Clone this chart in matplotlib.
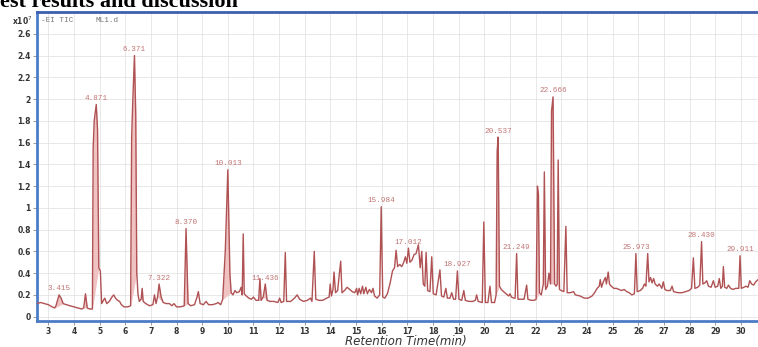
import numpy as np
import matplotlib
matplotlib.use("Agg")
import matplotlib.pyplot as plt

# ============================================================
# DATA  (intensity in units of 1e7)
# ============================================================

rt = [
    2.56, 2.70, 2.85, 3.00, 3.15, 3.25, 3.30, 3.42, 3.50, 3.58, 3.70, 3.85, 4.00, 4.15,
    4.30, 4.38, 4.45, 4.52, 4.62, 4.72, 4.75, 4.79, 4.87, 4.92, 4.97, 5.03, 5.08, 5.15,
    5.20, 5.28, 5.38, 5.48, 5.55, 5.62, 5.70, 5.78, 5.85, 5.95, 6.10, 6.21, 6.25, 6.30,
    6.36, 6.41, 6.45, 6.50, 6.55, 6.62, 6.66, 6.70, 6.80, 6.95, 7.08, 7.14, 7.20, 7.26,
    7.32, 7.40, 7.48, 7.60, 7.72, 7.82, 7.90, 8.00, 8.15, 8.30, 8.37, 8.45, 8.55, 8.70,
    8.80, 8.85, 8.92, 9.05, 9.15, 9.25, 9.40, 9.55, 9.62, 9.72, 9.80, 9.90, 10.00, 10.08,
    10.13, 10.20, 10.28, 10.35, 10.45, 10.52, 10.56, 10.60, 10.64, 10.72, 10.82, 10.92,
    11.00, 11.10, 11.20, 11.25, 11.30, 11.38, 11.46, 11.53, 11.65, 11.80, 11.95, 12.02,
    12.08, 12.18, 12.24, 12.29, 12.45, 12.60, 12.70, 12.80, 12.95, 13.10, 13.22, 13.28,
    13.37, 13.43, 13.55, 13.70, 13.85, 13.95, 13.99, 14.04, 14.10, 14.14, 14.20, 14.28,
    14.40, 14.45, 14.55, 14.65, 14.75, 14.85, 14.95, 15.02, 15.06, 15.12, 15.18, 15.25,
    15.30, 15.38, 15.44, 15.52, 15.60, 15.66, 15.72, 15.82, 15.92, 15.98, 16.04, 16.12,
    16.22, 16.32, 16.42, 16.50, 16.56, 16.62, 16.70, 16.78, 16.86, 16.92, 16.98, 17.04,
    17.10, 17.18, 17.26, 17.34, 17.43, 17.50, 17.56, 17.62, 17.68, 17.73, 17.79, 17.88,
    17.95, 18.01, 18.12, 18.27, 18.33, 18.42, 18.50, 18.56, 18.66, 18.73, 18.80, 18.88,
    18.95, 19.01, 19.12, 19.20, 19.26, 19.40, 19.55, 19.65, 19.70, 19.76, 19.92, 19.98,
    20.04, 20.14, 20.22, 20.28, 20.40, 20.46, 20.50, 20.54, 20.59, 20.66, 20.75, 20.85,
    20.95, 21.00, 21.06, 21.15, 21.20, 21.26, 21.31, 21.42, 21.55, 21.65, 21.70, 21.82,
    21.95, 22.02, 22.07, 22.11, 22.15, 22.22, 22.30, 22.34, 22.39, 22.46, 22.52, 22.58,
    22.62, 22.68, 22.74, 22.80, 22.84, 22.88, 22.93, 23.00, 23.10, 23.18, 23.23, 23.35,
    23.48, 23.55, 23.73, 23.90, 24.05, 24.20, 24.30, 24.40, 24.48, 24.52, 24.57, 24.64,
    24.72, 24.76, 24.83, 24.88, 24.95, 25.05, 25.15, 25.25, 25.35, 25.45, 25.55, 25.65,
    25.75, 25.85, 25.91, 25.96, 26.08, 26.17, 26.24, 26.30, 26.37, 26.42, 26.48, 26.54,
    26.60, 26.66, 26.75, 26.82, 26.92, 26.98, 27.04, 27.12, 27.25, 27.32, 27.38, 27.55,
    27.70, 27.85, 27.98, 28.08, 28.15, 28.21, 28.32, 28.40, 28.47, 28.52, 28.60, 28.67,
    28.74, 28.84, 28.93, 29.00, 29.10, 29.16, 29.22, 29.28, 29.32, 29.37, 29.45, 29.52,
    29.60, 29.70, 29.80, 29.92, 29.97, 30.02, 30.12, 30.20, 30.28, 30.35, 30.42, 30.50,
    30.58, 30.67,
]
tic = [
    0.12, 0.13, 0.12, 0.11, 0.09, 0.08, 0.10, 0.20, 0.17, 0.12, 0.11, 0.10, 0.09, 0.08,
    0.07, 0.08, 0.21, 0.08, 0.07, 0.07, 1.55, 1.80, 1.95, 1.72, 0.45, 0.42, 0.12, 0.15,
    0.17, 0.12, 0.14, 0.18, 0.20, 0.17, 0.15, 0.14, 0.11, 0.09, 0.09, 0.10, 1.65, 2.02,
    2.40, 1.85, 0.40, 0.20, 0.14, 0.16, 0.26, 0.14, 0.12, 0.10, 0.11, 0.20, 0.12, 0.18,
    0.30, 0.18, 0.13, 0.12, 0.12, 0.10, 0.12, 0.09, 0.09, 0.10, 0.81, 0.12, 0.10, 0.11,
    0.18, 0.23, 0.12, 0.11, 0.14, 0.11, 0.11, 0.12, 0.13, 0.11, 0.16, 0.60, 1.35, 0.40,
    0.22, 0.20, 0.24, 0.22, 0.23, 0.27, 0.20, 0.76, 0.21, 0.19, 0.17, 0.16,
    0.18, 0.15, 0.15, 0.35, 0.15, 0.18, 0.30, 0.15, 0.14, 0.14, 0.13, 0.17,
    0.13, 0.14, 0.59, 0.14, 0.14, 0.17, 0.20, 0.16, 0.14, 0.15, 0.17, 0.14,
    0.60, 0.16, 0.15, 0.15, 0.17, 0.18, 0.30, 0.19, 0.25, 0.41, 0.22, 0.24,
    0.51, 0.22, 0.24, 0.27, 0.25, 0.23, 0.22, 0.26, 0.20, 0.26, 0.21, 0.28,
    0.21, 0.27, 0.21, 0.25, 0.22, 0.26, 0.19, 0.17, 0.20, 1.01, 0.18, 0.17,
    0.21, 0.30, 0.42, 0.45, 0.61, 0.46, 0.48, 0.46, 0.50, 0.55, 0.49, 0.63,
    0.50, 0.52, 0.57, 0.58, 0.66, 0.45, 0.60, 0.30, 0.28, 0.59, 0.24, 0.23,
    0.55, 0.21, 0.20, 0.43, 0.19, 0.18, 0.26, 0.17, 0.17, 0.22, 0.16, 0.16,
    0.42, 0.16, 0.15, 0.24, 0.15, 0.14, 0.14, 0.15, 0.20, 0.14, 0.13, 0.87,
    0.13, 0.13, 0.28, 0.13, 0.13, 0.20, 1.52, 1.65, 0.28, 0.25, 0.23, 0.21,
    0.19, 0.21, 0.18, 0.17, 0.17, 0.58, 0.16, 0.16, 0.16, 0.29, 0.16, 0.15,
    0.15, 0.16, 1.20, 1.12, 0.22, 0.20, 0.30, 1.33, 0.25, 0.28, 0.40, 0.30,
    1.89, 2.02, 0.30, 0.28, 0.30, 1.44, 0.25, 0.24, 0.23, 0.83, 0.22, 0.22,
    0.23, 0.20, 0.19, 0.17, 0.17, 0.19, 0.22, 0.26, 0.28, 0.34, 0.27, 0.32,
    0.36, 0.30, 0.41, 0.30, 0.28, 0.26, 0.26, 0.25, 0.24, 0.25, 0.23, 0.22,
    0.20, 0.21, 0.58, 0.23, 0.24, 0.26, 0.30, 0.28, 0.58, 0.32, 0.36, 0.31,
    0.35, 0.30, 0.28, 0.30, 0.26, 0.32, 0.25, 0.24, 0.24, 0.28, 0.23, 0.22,
    0.22, 0.23, 0.24, 0.26, 0.54, 0.26, 0.27, 0.29, 0.69, 0.30, 0.31, 0.33,
    0.28, 0.27, 0.33, 0.27, 0.28, 0.35, 0.26, 0.28, 0.46, 0.27, 0.26, 0.29,
    0.26, 0.25, 0.26, 0.26, 0.56, 0.26, 0.27, 0.28, 0.27, 0.33, 0.30, 0.29,
    0.32, 0.34,
]

# integrated peak windows (shaded)
fill_windows = [
    (3.25, 3.58), (4.38, 4.52), (4.72, 4.97), (6.21, 6.45), (6.62, 6.70),
    (7.26, 7.48), (8.30, 8.45), (9.80, 10.13), (11.20, 11.30), (11.38, 11.53),
    (20.46, 20.59), (22.02, 22.15), (22.30, 22.39), (22.58, 22.74), (22.84, 22.93),
]

# labelled peaks: text and retention time of the apex
peak_labels = ["3.415", "4.871", "6.371", "7.322", "8.370", "10.013", "11.436",
               "15.984", "17.012", "18.927", "20.537", "21.249", "22.666",
               "25.973", "28.430", "29.911"]
peak_times = [3.42, 4.87, 6.36, 7.32, 8.37, 10.00, 11.46,
              15.98, 17.04, 18.95, 20.54, 21.26, 22.68,
              25.91, 28.47, 29.97]

x_ticks = list(range(3, 31))
y_ticks = [0, 0.2, 0.4, 0.6, 0.8, 1, 1.2, 1.4, 1.6, 1.8, 2, 2.2, 2.4, 2.6]

# ============================================================
# FIGURE
# ============================================================

LINE_C = "#b05254"
FILL_C = "#f0c2c2"
BLUE = "#4d7cc6"

rt = np.array(rt)
tic = np.array(tic)

fig = plt.figure(figsize=(7.58, 3.47), dpi=100)
ax = fig.add_axes([37 / 758, 26 / 347, 1 - 37 / 758, (321 - 12) / 347])

for a, b in fill_windows:
    sel = (rt >= a - 1e-9) & (rt <= b + 1e-9)
    ts, ys = rt[sel], tic[sel]
    base = np.interp(ts, [ts[0], ts[-1]], [ys[0], ys[-1]])
    ax.fill_between(ts, ys, base, color=FILL_C, lw=0, zorder=2)

ax.plot(rt, tic, color=LINE_C, lw=1.0, zorder=3)

for lab, t in zip(peak_labels, peak_times):
    i = int(np.argmin(np.abs(rt - t)))
    ax.annotate(lab, xy=(rt[i], tic[i]), xytext=(0, 6), textcoords="offset pixels",
                ha="center", va="center", fontsize=5.5, color="#c27474",
                fontfamily="Liberation Mono")

ax.set_xlim(2.56, 30.67)
ax.set_ylim(-0.04, 2.80)
ax.set_xticks(x_ticks)
ax.set_yticks(y_ticks)
ax.set_yticklabels([f"{v:g}" for v in y_ticks])
ax.grid(True, color="#e4e4e4", lw=0.6, zorder=0)
ax.tick_params(axis="both", labelsize=5.5, length=3, width=0.6, color="#888888",
               labelcolor="#333333", pad=1.5)
for lab in ax.get_xticklabels() + ax.get_yticklabels():
    lab.set_fontweight("bold")

ax.spines["right"].set_visible(False)
ax.spines["left"].set_color(BLUE)
ax.spines["left"].set_linewidth(2)
ax.spines["bottom"].set_color(BLUE)
ax.spines["bottom"].set_linewidth(2)
ax.spines["top"].set_color("#3c5fae")
ax.spines["top"].set_linewidth(2)

# header texts
fig.text(22 / 758, 1 - 21 / 347, "x10$^{7}$", fontsize=5.5, fontweight="bold",
         color="#333333", ha="center", va="center")
fig.text(41 / 758, 1 - 20 / 347, "-EI TIC", fontsize=5.5, color="#777777",
         ha="left", va="center", fontfamily="Liberation Mono")
fig.text(95 / 758, 1 - 20 / 347, "ML1.d", fontsize=5.5, color="#777777",
         ha="left", va="center", fontfamily="Liberation Mono")

fig.text(0.0, 1 - 7 / 347, "est results and discussion", fontsize=16,
         fontweight="bold", fontfamily="Liberation Serif", ha="left", va="baseline")

fig.text(406 / 758, 1 - 342 / 347, "Retention Time(min)", fontsize=8.5,
         fontstyle="italic", color="#333333", ha="center", va="center")

plt.savefig("out.png", dpi=100)
